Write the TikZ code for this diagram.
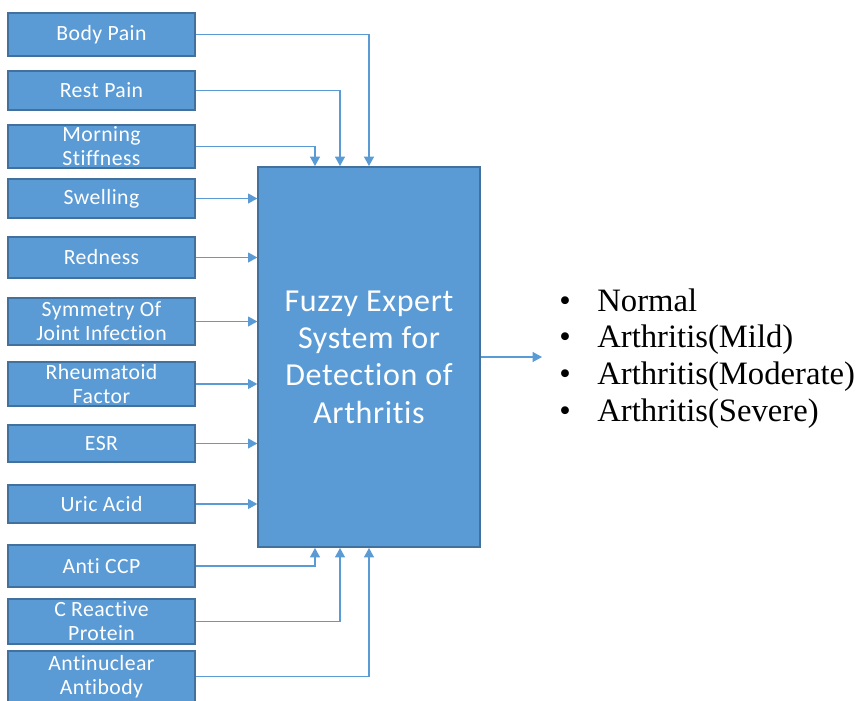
\documentclass[tikz,border=0pt]{standalone}
\usepackage{fontspec}
\setmainfont{Liberation Serif}
\newfontfamily\calib[Ligatures=NoCommon,LetterSpace=2]{Carlito}
\usetikzlibrary{arrows.meta}
\definecolor{boxblue}{HTML}{5B9BD5}
\definecolor{edgeblue}{HTML}{41719C}

\begin{document}
\begin{tikzpicture}[x=0.75pt,y=-0.75pt,
    inbox/.style={draw=edgeblue,line width=1.5pt,fill=boxblue,text=white,
      minimum width=140pt,align=center,inner sep=0pt,
      font=\calib\fontsize{16.3}{18}\selectfont},
    flow/.style={boxblue,line width=0.8pt,-{Triangle[width=7.5pt,length=7pt]}}]
          \useasboundingbox (0,0) rectangle (864,700);
          \node[draw=edgeblue,line width=1.5pt,fill=boxblue,text=white,
            minimum width=166pt,minimum height=285pt,align=center,
            font=\calib\fontsize{24}{28}\selectfont] (fes) at (369,357)
            {Fuzzy Expert\\System for\\Detection of\\Arthritis};
          \node[inbox,minimum height=32pt] (body) at (101.5,34.5) {Body Pain};
          \node[inbox,minimum height=29pt] (rest) at (101.5,90.5) {Rest Pain};
          \node[inbox,minimum height=32pt] (morn) at (101.5,146.5) {Morning\\Stiffness};
          \node[inbox,minimum height=29pt] (swel) at (101.5,198.5) {Swelling};
          \node[inbox,minimum height=31pt] (red) at (101.5,257.5) {Redness};
          \node[inbox,minimum height=35pt] (sym) at (101.5,321.5) {Symmetry Of\\Joint Infection};
          \node[inbox,minimum height=33pt] (rheu) at (101.5,384) {Rheumatoid\\Factor};
          \node[inbox,minimum height=28pt] (esr) at (101.5,443.5) {ESR};
          \node[inbox,minimum height=28pt] (uric) at (101.5,504) {Uric Acid};
          \node[inbox,minimum height=31pt] (ccp) at (101.5,566) {Anti CCP};
          \node[inbox,minimum height=34pt] (crp) at (101.5,621.5) {C Reactive\\Protein};
          \node[inbox,minimum height=38pt] (ana) at (101.5,676.5) {Antinuclear\\Antibody};
          % inputs from above
          \draw[flow] (body.east) -| (fes.north);
          \draw[flow] (rest.east) -| ([xshift=-21.75pt]fes.north);
          \draw[flow] (morn.east) -| ([xshift=-40.5pt]fes.north);
          % inputs from the side
          \draw[flow] (swel.east) -- (swel.east -| fes.west);
          \draw[flow] (red.east) -- (red.east -| fes.west);
          \draw[flow] (sym.east) -- (sym.east -| fes.west);
          \draw[flow] (rheu.east) -- (rheu.east -| fes.west);
          \draw[flow] (esr.east) -- (esr.east -| fes.west);
          \draw[flow] (uric.east) -- (uric.east -| fes.west);
          % inputs from below
          \draw[flow] (ccp.east) -| ([xshift=-40.5pt]fes.south);
          \draw[flow] (crp.east) -| ([xshift=-21.75pt]fes.south);
          \draw[flow] (ana.east) -| (fes.south);
          % output
          \coordinate (out) at (542,357);
          \draw[flow] (fes.east) -- (out);
          \node[anchor=west,inner sep=0pt,font=\fontsize{24.5}{27.6}\selectfont] (res) at (559,359)
            {\begin{tabular}{@{}l@{\hspace{20pt}}l@{}}
              \textbullet & Normal\\
              \textbullet & Arthritis(Mild)\\
              \textbullet & Arthritis(Moderate)\\
              \textbullet & Arthritis(Severe)
            \end{tabular}};
        \end{tikzpicture}
\end{document}
